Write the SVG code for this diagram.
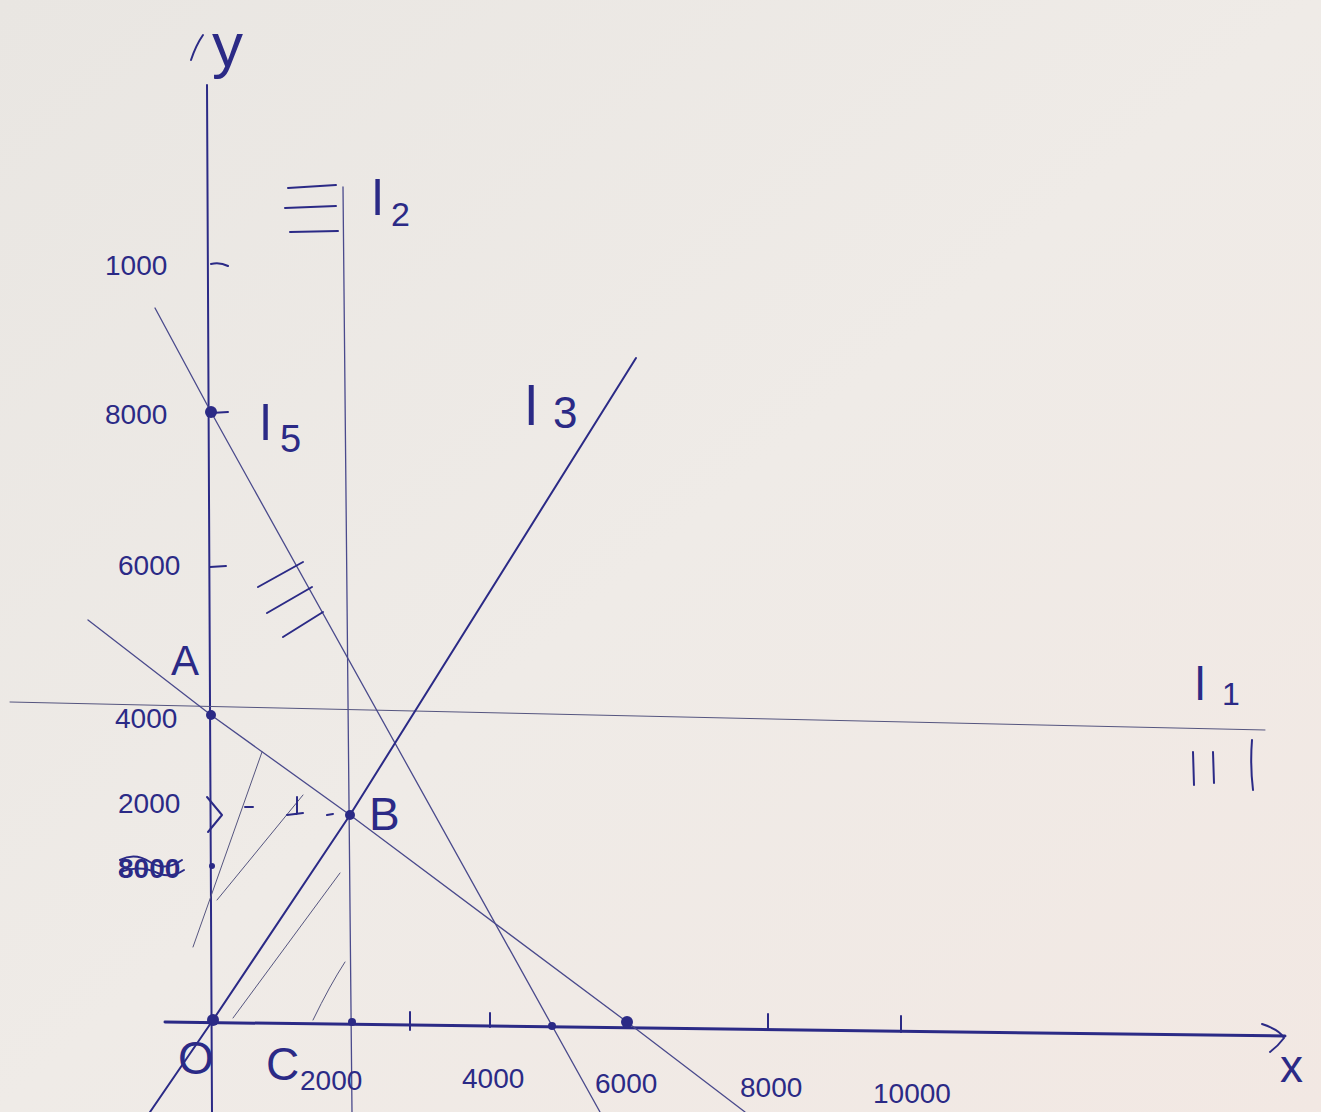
<svg xmlns="http://www.w3.org/2000/svg" width="1321" height="1112" viewBox="0 0 1321 1112">
<defs>
<linearGradient id="paper" x1="0" y1="0" x2="1" y2="1">
<stop offset="0" stop-color="#e9e6e2"/>
<stop offset="0.5" stop-color="#efebe7"/>
<stop offset="1" stop-color="#f2e8e3"/>
</linearGradient>
<style>
.ink{stroke:#2b2a86;fill:none;stroke-linecap:round;stroke-linejoin:round}
.thick{stroke-width:3}
.mid{stroke-width:2}
.thin{stroke:#4a4a8c;stroke-width:1.3}
.faint{stroke:#55557f;stroke-width:1}
.lbl{font-family:"Liberation Sans",sans-serif;fill:#2b2a86}
.num{font-size:28px}
.big{font-size:46px}
.dot{fill:#2b2a86}
</style>
</defs>
<rect width="1321" height="1112" fill="url(#paper)"/>

<g id="connectors">
<!-- y axis -->
<path class="ink mid" d="M207 85 L212 1112"/>
<path class="ink mid" d="M191 60 Q196 45 203 35"/>
<!-- x axis -->
<path class="ink thick" d="M165 1022 L1285 1036"/>
<path class="ink mid" d="M1262 1024 Q1280 1030 1284 1038 Q1278 1046 1270 1052"/>
<!-- x ticks -->
<path class="ink mid" d="M410 1012 L410 1030 M490 1013 L490 1027 M768 1014 L768 1030 M901 1016 L901 1032"/>
<!-- y ticks -->
<path class="ink mid" d="M211 264 Q220 262 228 266 M210 567 L226 566 M211 413 L228 412"/>
<!-- l2 vertical -->
<path class="ink thin" d="M343 187 L352 1112"/>
<path class="ink mid" d="M288 188 L336 185 M285 208 L336 206 M290 232 L338 231"/>
<!-- l1 horizontal -->
<path class="ink faint" d="M10 702 L1265 730"/>
<path class="ink mid" d="M1193 752 L1194 785 M1213 752 L1214 783 M1252 740 Q1250 765 1253 790"/>
<!-- l5 -->
<path class="ink thin" d="M155 308 L211 412 L600 1112"/>
<path class="ink mid" d="M258 587 L303 562 M267 613 L312 587 M283 637 L323 612"/>
<!-- line through A and B -->
<path class="ink thin" d="M88 620 L211 715 L350 815 L627 1022 L745 1112"/>
<!-- l3 -->
<path class="ink mid" d="M150 1112 L213 1020 L350 815 L636 358"/>
<!-- hatching -->
<path class="ink faint" d="M193 947 L262 752 M217 900 L303 795 M233 1018 L340 873 M313 1020 Q330 985 345 962"/>
<path class="ink mid" d="M245 807 L253 807 M287 815 L303 813 M297 797 L297 814 M327 815 L333 814"/>
<path class="ink mid" d="M207 797 L222 815 L208 832"/>
</g>

<g id="points">
<circle class="dot" cx="211" cy="412" r="6"/>
<circle class="dot" cx="211" cy="715" r="5"/>
<circle class="dot" cx="350" cy="815" r="5"/>
<circle class="dot" cx="213" cy="1020" r="6"/>
<circle class="dot" cx="352" cy="1022" r="4"/>
<circle class="dot" cx="552" cy="1026" r="4"/>
<circle class="dot" cx="627" cy="1022" r="6"/>
<circle class="dot" cx="212" cy="866" r="3"/>
</g>

<g id="axis-y-label"><text class="lbl" x="212" y="66" font-size="62">y</text></g>
<g id="axis-x-label"><text class="lbl" x="1280" y="1082" font-size="46">x</text></g>

<g id="y-labels">
<text class="lbl num" x="105" y="275">1000</text>
<text class="lbl num" x="105" y="424">8000</text>
<text class="lbl num" x="118" y="575">6000</text>
<text class="lbl num" x="115" y="728">4000</text>
<text class="lbl num" x="118" y="813">2000</text>
<g id="scribbled">
<text class="lbl num" x="118" y="878" font-weight="bold">8000</text>
<path class="ink mid" d="M120 860 Q135 852 150 862 Q165 872 182 860 M120 872 Q140 864 160 874 Q172 878 184 870"/>
</g>
</g>

<g id="x-labels">
<text class="lbl num" x="462" y="1088">4000</text>
<text class="lbl num" x="595" y="1093">6000</text>
<text class="lbl num" x="740" y="1097">8000</text>
<text class="lbl num" x="873" y="1103">10000</text>
</g>

<g id="node-A"><text class="lbl" x="171" y="675" font-size="42">A</text></g>
<g id="node-B"><text class="lbl" x="369" y="830" font-size="46">B</text></g>
<g id="node-O"><text class="lbl" x="178" y="1074" font-size="46">O</text></g>
<g id="node-C"><text class="lbl" x="266" y="1080" font-size="46">C</text><text class="lbl num" x="300" y="1090">2000</text></g>

<g id="label-l2"><text class="lbl" x="372" y="215" font-size="50">l</text><text class="lbl" x="391" y="226" font-size="34">2</text></g>
<g id="label-l5"><text class="lbl" x="260" y="440" font-size="50">l</text><text class="lbl" x="280" y="452" font-size="38">5</text></g>
<g id="label-l3"><text class="lbl" x="525" y="425" font-size="56">l</text><text class="lbl" x="553" y="428" font-size="44">3</text></g>
<g id="label-l1"><text class="lbl" x="1195" y="700" font-size="46">l</text><text class="lbl" x="1222" y="705" font-size="32">1</text></g>
</svg>
